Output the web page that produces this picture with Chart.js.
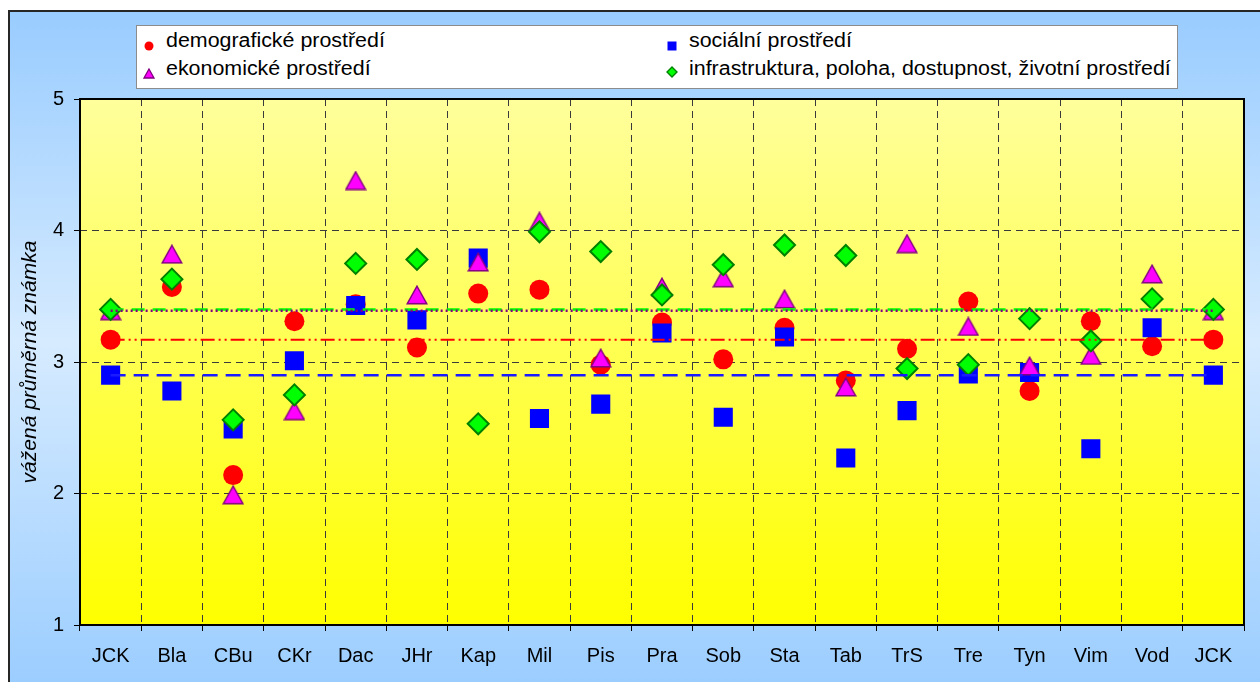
<!DOCTYPE html>
<html>
<head>
<meta charset="utf-8">
<script src="https://cdn.jsdelivr.net/npm/chart.js@4"></script>
<style>
html,body{margin:0;padding:0;background:#fff;width:1260px;height:682px;overflow:hidden;font-family:'Liberation Sans',Arial,sans-serif;}
#frame{position:absolute;left:8px;top:10px;width:1270px;height:690px;box-sizing:border-box;border:2px solid #262626;background:linear-gradient(to bottom,#99CCFF 0%,#D6EBFF 48%,#99CCFF 100%);}
#c{position:absolute;left:0;top:0;}
#legend{position:absolute;left:136px;top:25px;width:1042px;height:64px;box-sizing:border-box;background:#fff;border:1px solid #8c8c8c;}
.item{position:absolute;height:28px;line-height:28px;font-size:20px;color:#000;white-space:nowrap;}
.txt{display:inline-block;transform:scaleX(1.07);transform-origin:left center;}
.mk{position:absolute;}
</style>
</head>
<body>
<div id="frame"></div>
<canvas id="c" width="1260" height="682" style="width:1260px;height:682px"></canvas>
<div id="legend"></div>
<script>
// ---- data ----
const categories = ['JCK','Bla','CBu','CKr','Dac','JHr','Kap','Mil','Pis','Pra','Sob','Sta','Tab','TrS','Tre','Tyn','Vim','Vod','JCK'];
const seriesNames = ['demografické prostředí','sociální prostředí','ekonomické prostředí','infrastruktura, poloha, dostupnost, životní prostředí'];
const demografickeValues   = [3.17,3.57,2.14,3.31,3.44,3.11,3.52,3.55,2.98,3.30,3.02,3.26,2.86,3.10,3.46,2.78,3.31,3.12,3.17];
const socialniValues       = [2.90,2.78,2.49,3.01,3.43,3.32,3.79,2.57,2.68,3.22,2.58,3.19,2.27,2.63,2.91,2.92,2.34,3.26,2.90];
const ekonomickeValues     = [3.39,3.82,1.99,2.63,4.38,3.51,3.76,4.07,3.03,3.57,3.64,3.48,2.81,3.90,3.27,2.97,3.05,3.67,3.39];
const infrastrukturaValues = [3.40,3.63,2.56,2.75,3.75,3.78,2.53,3.99,3.84,3.51,3.74,3.89,3.81,2.95,2.98,3.33,3.16,3.48,3.40];
// JCK reference levels (demo, social, econ, infra) drawn from first to last category
const referenceLevels = [3.17, 2.90, 3.39, 3.40];
const referenceSpan = [0, 18];
const yTicks = [1,2,3,4,5];
const yTitle = 'vážená průměrná známka';

// ---- styles ----
const FONT = "'Liberation Sans', Arial, sans-serif";
Chart.defaults.font.family = FONT;
Chart.defaults.color = '#000';

function makeTriangle(w, h, lw) {
  const c = document.createElement('canvas');
  c.width = w; c.height = h;
  const g = c.getContext('2d');
  g.beginPath();
  g.moveTo(w / 2, lw / 2 + 0.5);
  g.lineTo(w - lw / 2 - 0.5, h - lw / 2 - 0.5);
  g.lineTo(lw / 2 + 0.5, h - lw / 2 - 0.5);
  g.closePath();
  g.fillStyle = '#FF00FF'; g.fill();
  g.strokeStyle = '#800080'; g.lineWidth = lw; g.stroke();
  return c;
}
const triangleImg = makeTriangle(22, 20, 1.5);

const refLine = (k, color, dash, width, order) => ({
  label: '_ref' + k,
  data: referenceSpan.map(i => ({x: i, y: referenceLevels[k]})),
  parsing: false,
  borderColor: color, borderWidth: width, borderDash: dash,
  borderCapStyle: 'butt', pointRadius: 0, fill: false, tension: 0, order
});

const plotDecor = {
  id: 'plotDecor',
  beforeDraw(chart) {
    const {ctx, chartArea: a} = chart;
    const g = ctx.createLinearGradient(0, a.top, 0, a.bottom);
    g.addColorStop(0, '#FFFF9C');
    g.addColorStop(1, '#FFFF00');
    ctx.save();
    ctx.fillStyle = g;
    ctx.fillRect(a.left, a.top, a.right - a.left, a.bottom - a.top);
    ctx.restore();
  },
  afterDraw(chart) {
    const {ctx, chartArea: a} = chart;
    ctx.save();
    ctx.strokeStyle = '#000';
    ctx.lineWidth = 2;
    ctx.setLineDash([]);
    ctx.strokeRect(a.left, a.top, a.right - a.left, a.bottom - a.top);
    ctx.restore();
  }
};

new Chart(document.getElementById('c'), {
  type: 'line',
  data: {
    labels: categories,
    datasets: [
      {label: seriesNames[0], data: demografickeValues, showLine: false, pointStyle: 'circle', pointRadius: 10, pointBackgroundColor: '#FF0000', pointBorderColor: '#FF0000', pointBorderWidth: 0, order: 7},
      {label: seriesNames[1], data: socialniValues, showLine: false, pointStyle: 'rect', pointRadius: 13.5, pointBackgroundColor: '#0000FF', pointBorderColor: '#0000FF', pointBorderWidth: 0, order: 6},
      {label: seriesNames[2], data: ekonomickeValues, showLine: false, pointStyle: triangleImg, pointRadius: 11, order: 5},
      {label: seriesNames[3], data: infrastrukturaValues, showLine: false, pointStyle: 'rectRot', pointRadius: 10.5, pointBackgroundColor: '#00FF00', pointBorderColor: '#008000', pointBorderWidth: 2, order: 4},
      refLine(0, '#FF0000', [14,4,2,4,2,4], 2, 3),
      refLine(1, '#1A1AFF', [15,8], 2.5, 2),
      refLine(3, '#00FF00', [13,8], 2.5, 1),
      refLine(2, '#800080', [2,3], 2.5, 0)
    ]
  },
  options: {
    responsive: false,
    animation: false,
    devicePixelRatio: 1,
    layout: {padding: {top: 99, right: 16, left: 0, bottom: 0}},
    plugins: {legend: {display: false}, tooltip: {enabled: false}},
    events: [],
    scales: {
      x: {
        type: 'category',
        offset: true,
        grid: {offset: true, color: '#3a3a3a', lineWidth: 1, drawTicks: true, tickLength: 6, tickColor: '#000', tickWidth: 1, tickBorderDash: []},
        border: {display: false, dash: [7,5]},
        ticks: {font: {size: 20}, color: '#000', padding: 13, maxRotation: 0, autoSkip: false},
        afterFit(s) { s.height = 57; }
      },
      y: {
        min: 1, max: 5,
        afterBuildTicks(s) { s.ticks = yTicks.map(v => ({value: v})); },
        grid: {color: '#3a3a3a', lineWidth: 1, drawTicks: true, tickLength: 6, tickColor: '#000', tickWidth: 1, tickBorderDash: []},
        border: {display: false, dash: [7,5]},
        ticks: {font: {size: 20}, color: '#000', padding: 10},
        title: {display: true, text: yTitle, font: {size: 21, style: 'italic'}, color: '#000', padding: {top: 18, bottom: 0}},
        afterFit(s) { s.width = 80; }
      }
    }
  },
  plugins: [plotDecor]
});

// ---- legend (HTML, real text) ----
const legendEl = document.getElementById('legend');
const markers = [
  '<svg width="10" height="10"><circle cx="5" cy="5" r="4.5" fill="#FF0000"/></svg>',
  '<svg width="10" height="10"><rect x="0.5" y="0.5" width="9" height="9" fill="#0000FF"/></svg>',
  '<svg width="12" height="11"><polygon points="6,1 11,10 1,10" fill="#FF00FF" stroke="#800080" stroke-width="1.3"/></svg>',
  '<svg width="12" height="12"><polygon points="6,1 11,6 6,11 1,6" fill="#00FF00" stroke="#008000" stroke-width="1.4"/></svg>'
];
const legendPos = [
  {mx: 7, my: 10.5, tx: 29, ty: 0},
  {mx: 530, my: 10.5, tx: 552, ty: 0},
  {mx: 6, my: 39, tx: 29, ty: 28},
  {mx: 529, my: 38, tx: 552, ty: 28}
];
seriesNames.forEach((name, i) => {
  const p = legendPos[i];
  const m = document.createElement('div');
  m.className = 'mk'; m.style.left = p.mx + 'px'; m.style.top = p.my + 'px';
  m.innerHTML = markers[i];
  legendEl.appendChild(m);
  const t = document.createElement('div');
  t.className = 'item'; t.style.left = p.tx + 'px'; t.style.top = p.ty + 'px';
  t.innerHTML = '<span class="txt"></span>';
  t.firstChild.textContent = name;
  legendEl.appendChild(t);
});
</script>
</body>
</html>
